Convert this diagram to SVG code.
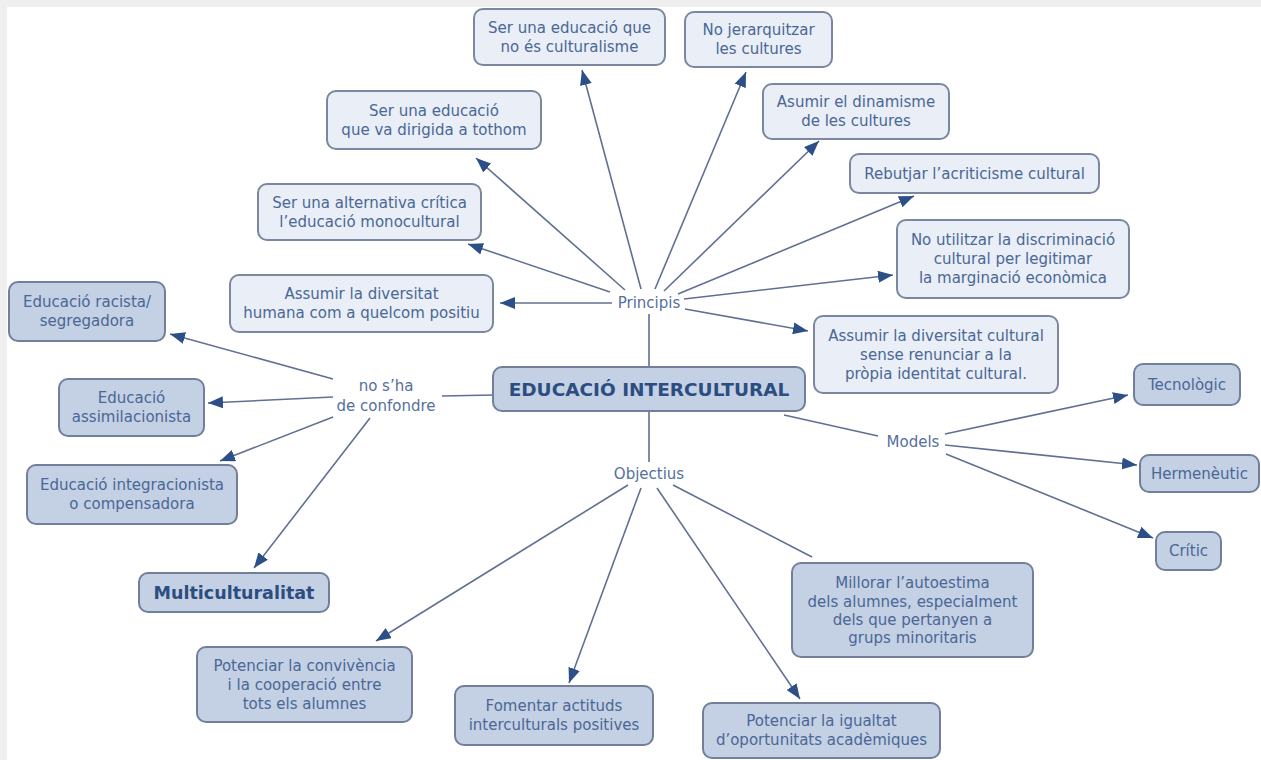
<svg xmlns="http://www.w3.org/2000/svg" width="1261" height="760" viewBox="0 0 1261 760">
  <style>
    .light rect { fill: #e9eef7; stroke: #7a879f; stroke-width: 2; }
    .dark rect { fill: #c4d0e4; stroke: #717f99; stroke-width: 2; }
    text { font-family: "DejaVu Sans", Verdana, sans-serif; font-size: 15px; fill: #4a6795; text-anchor: middle; }
    .title { font-weight: bold; font-size: 18.5px; fill: #2c4d80; }
    .bold { font-weight: bold; font-size: 17.5px; fill: #2c4d80; }
    .label { fill: #55709c; }
    #connectors line { stroke: #5f7092; stroke-width: 1.6; fill: none; }
    #connectors line.arr { marker-end: url(#head); }
  </style>
  <defs>
    <marker id="head" markerUnits="userSpaceOnUse" markerWidth="16" markerHeight="12" refX="15" refY="6" orient="auto">
      <path d="M0,0 L15,6 L0,12 Z" fill="#2c4f88"/>
    </marker>
  </defs>

  <!-- page frame -->
  <rect x="0" y="0" width="1261" height="760" fill="#ffffff"/>
  <rect x="0" y="0" width="1261" height="7" fill="#efefef"/>
  <rect x="0" y="0" width="7" height="760" fill="#efefef"/>

  <g id="connectors">
    <!-- hub links -->
    <line x1="649" y1="367" x2="649" y2="314"/>
    <line x1="649" y1="411" x2="649" y2="462"/>
    <line x1="493" y1="395" x2="442" y2="396"/>
    <line x1="784" y1="415" x2="878" y2="436"/>
    <!-- Principis -->
    <line class="arr" x1="612" y1="303" x2="500" y2="303"/>
    <line class="arr" x1="610" y1="292" x2="468" y2="244"/>
    <line class="arr" x1="625" y1="290" x2="476" y2="158"/>
    <line class="arr" x1="641" y1="289" x2="582" y2="70"/>
    <line class="arr" x1="655" y1="289" x2="746" y2="72"/>
    <line class="arr" x1="664" y1="291" x2="819" y2="141"/>
    <line class="arr" x1="678" y1="294" x2="914" y2="196"/>
    <line class="arr" x1="684" y1="299" x2="893" y2="275"/>
    <line class="arr" x1="685" y1="309" x2="808" y2="331"/>
    <!-- no s'ha de confondre -->
    <line class="arr" x1="333" y1="379" x2="170" y2="334"/>
    <line class="arr" x1="333" y1="397" x2="208" y2="403"/>
    <line class="arr" x1="333" y1="417" x2="220" y2="461"/>
    <line class="arr" x1="370" y1="418" x2="254" y2="568"/>
    <!-- Objectius -->
    <line class="arr" x1="628" y1="485" x2="376" y2="641"/>
    <line class="arr" x1="641" y1="488" x2="569" y2="683"/>
    <line class="arr" x1="657" y1="488" x2="800" y2="699"/>
    <line x1="673" y1="485" x2="812" y2="557"/>
    <!-- Models -->
    <line class="arr" x1="945" y1="434" x2="1128" y2="395"/>
    <line class="arr" x1="945" y1="445" x2="1137" y2="465"/>
    <line class="arr" x1="946" y1="454" x2="1153" y2="538"/>
  </g>

  <!-- linking phrases -->
  <g id="lbl-principis"><text class="label" x="649" y="308">Principis</text></g>
  <g id="lbl-objectius"><text class="label" x="649" y="479">Objectius</text></g>
  <g id="lbl-confondre"><text class="label" x="386" y="391">no s’ha</text><text class="label" x="386" y="411">de confondre</text></g>
  <g id="lbl-models"><text class="label" x="913" y="447">Models</text></g>

  <!-- central concept -->
  <g id="n-central" class="dark"><rect x="493" y="367" width="312" height="44" rx="9"/><text class="title" x="649" y="396">EDUCACIÓ INTERCULTURAL</text></g>

  <!-- principles -->
  <g id="n-culturalisme" class="light"><rect x="474" y="9" width="191" height="56" rx="9"/><text x="569.5" y="33">Ser una educació que</text><text x="569.5" y="52">no és culturalisme</text></g>
  <g id="n-jerarquitzar" class="light"><rect x="685" y="12" width="147" height="55" rx="9"/><text x="758.5" y="35">No jerarquitzar</text><text x="758.5" y="54">les cultures</text></g>
  <g id="n-tothom" class="light"><rect x="327" y="91" width="214" height="58" rx="9"/><text x="434" y="116">Ser una educació</text><text x="434" y="135">que va dirigida a tothom</text></g>
  <g id="n-dinamisme" class="light"><rect x="763" y="84" width="186" height="55" rx="9"/><text x="856" y="107">Asumir el dinamisme</text><text x="856" y="126">de les cultures</text></g>
  <g id="n-alternativa" class="light"><rect x="258" y="184" width="223" height="56" rx="9"/><text x="369.5" y="208">Ser una alternativa crítica</text><text x="369.5" y="227">l’educació monocultural</text></g>
  <g id="n-rebutjar" class="light"><rect x="850" y="154" width="249" height="39" rx="9"/><text x="974.5" y="178.5">Rebutjar l’acriticisme cultural</text></g>
  <g id="n-discriminacio" class="light"><rect x="897" y="220" width="232" height="78" rx="9"/><text x="1013" y="245">No utilitzar la discriminació</text><text x="1013" y="264">cultural per legitimar</text><text x="1013" y="283">la marginació econòmica</text></g>
  <g id="n-humana" class="light"><rect x="230" y="275" width="263" height="57" rx="9"/><text x="361.5" y="299">Assumir la diversitat</text><text x="361.5" y="318">humana com a quelcom positiu</text></g>
  <g id="n-identitat" class="light"><rect x="814" y="316" width="244" height="77" rx="9"/><text x="936" y="341">Assumir la diversitat cultural</text><text x="936" y="360">sense renunciar a la</text><text x="936" y="379">pròpia identitat cultural.</text></g>

  <!-- not to be confused with -->
  <g id="n-racista" class="dark"><rect x="9" y="282" width="156" height="59" rx="9"/><text x="87" y="307">Educació racista/</text><text x="87" y="326">segregadora</text></g>
  <g id="n-assimilacionista" class="dark"><rect x="59" y="379" width="145" height="57" rx="9"/><text x="131.5" y="403">Educació</text><text x="131.5" y="422">assimilacionista</text></g>
  <g id="n-integracionista" class="dark"><rect x="27" y="465" width="210" height="59" rx="9"/><text x="132" y="490">Educació integracionista</text><text x="132" y="509">o compensadora</text></g>
  <g id="n-multiculturalitat" class="dark"><rect x="139" y="573" width="190" height="39" rx="9"/><text class="bold" x="234" y="599">Multiculturalitat</text></g>

  <!-- objectives -->
  <g id="n-convivencia" class="dark"><rect x="197" y="647" width="215" height="75" rx="9"/><text x="304.5" y="671">Potenciar la convivència</text><text x="304.5" y="690">i la cooperació entre</text><text x="304.5" y="709">tots els alumnes</text></g>
  <g id="n-fomentar" class="dark"><rect x="455" y="686" width="198" height="59" rx="9"/><text x="554" y="711">Fomentar actituds</text><text x="554" y="730">interculturals positives</text></g>
  <g id="n-igualtat" class="dark"><rect x="703" y="703" width="237" height="55" rx="9"/><text x="821.5" y="726">Potenciar la igualtat</text><text x="821.5" y="745">d’oportunitats acadèmiques</text></g>
  <g id="n-autoestima" class="dark"><rect x="792" y="563" width="241" height="94" rx="9"/><text x="912.5" y="588">Millorar l’autoestima</text><text x="912.5" y="607">dels alumnes, especialment</text><text x="912.5" y="625">dels que pertanyen a</text><text x="912.5" y="643">grups minoritaris</text></g>

  <!-- models -->
  <g id="n-tecnologic" class="dark"><rect x="1134" y="364" width="106" height="41" rx="9"/><text x="1187" y="389.5">Tecnològic</text></g>
  <g id="n-hermeneutic" class="dark"><rect x="1140" y="455" width="119" height="37" rx="9"/><text x="1199.5" y="478.5">Hermenèutic</text></g>
  <g id="n-critic" class="dark"><rect x="1156" y="532" width="65" height="38" rx="9"/><text x="1188.5" y="556">Crític</text></g>
</svg>
